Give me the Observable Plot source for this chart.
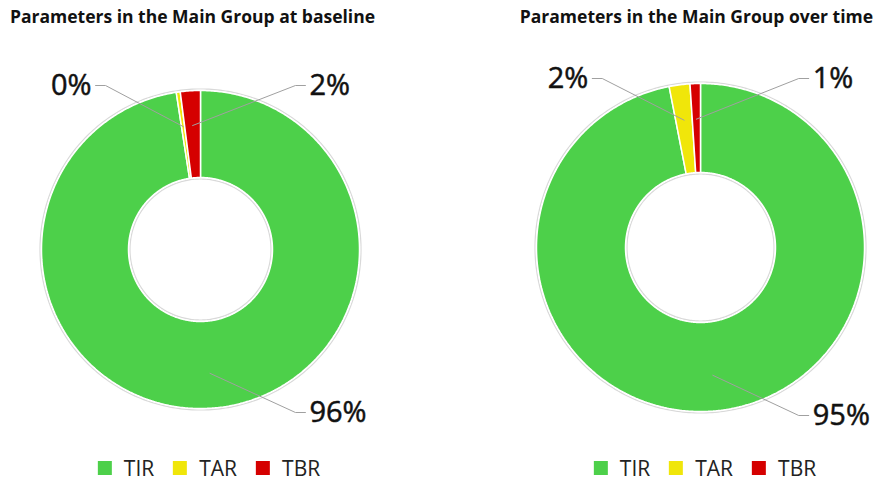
<!DOCTYPE html>
<html><head><meta charset="utf-8">
<script src="https://cdn.jsdelivr.net/npm/d3@7"></script>
<script src="https://cdn.jsdelivr.net/npm/@observablehq/plot@0.6"></script>
<style>
body{margin:0;background:#fff;font-family:"Open Sans",sans-serif;}
#root{position:relative;width:877px;height:482px;overflow:hidden;background:#fff}
.title{position:absolute;top:4px;font-weight:700;font-size:17.5px;color:#111;white-space:nowrap}
.panel{position:absolute;top:40px}
.legend{position:absolute;top:454px;display:flex;align-items:center;font-size:21px;color:#222;transform:translateX(-50%)}
.legend .item{display:flex;align-items:center;margin-right:19px}
.legend .item:last-child{margin-right:0}
.legend .sw{width:14px;height:14px;margin-right:12px}
</style></head><body><div id="root"></div>
<script>
const categories = ["TIR", "TAR", "TBR"];
const sliceColors = ["#4dd04a", "#f0e60a", "#d50000"];
const baselineValues = [96, 0.4, 2];
const overTimeValues = [95, 2, 1];
const chartTitles = ["Parameters in the Main Group at baseline", "Parameters in the Main Group over time"];

const H = 405;
const panels = [
  {values: baselineValues, title: chartTitles[0], left: 0, width: 438, cx: 200, cy: 209, rO: 159, rI: 72, legendX: 209, titleLeft: 10},
  {values: overTimeValues, title: chartTitles[1], left: 439, width: 438, cx: 261, cy: 207, rO: 164, rI: 75, legendX: 705, titleRight: 4}
];

const root = document.getElementById("root");

function donut(cfg) {
  const arcs = d3.pie().sort(null).value(d => d.value)(categories.map((c, i) => ({cat: c, value: cfg.values[i]})));
  const pt = (a, r) => [cfg.cx + r * Math.sin(a), cfg.cy - r * Math.cos(a)];
  const slicePts = [];
  arcs.forEach(p => {
    const n = Math.max(2, Math.ceil((p.endAngle - p.startAngle) / 0.01));
    const seg = [];
    for (let k = 0; k <= n; k++) { const a = p.startAngle + (p.endAngle - p.startAngle) * k / n; seg.push(pt(a, cfg.rO)); }
    for (let k = n; k >= 0; k--) { const a = p.startAngle + (p.endAngle - p.startAngle) * k / n; seg.push(pt(a, cfg.rI)); }
    seg.push(seg[0]);
    seg.forEach(([x, y]) => slicePts.push({cat: p.data.cat, x, y}));
  });
  const rim = [];
  for (let k = 0; k <= 360; k++) {
    const a = k / 360 * 2 * Math.PI;
    const [x1, y1] = pt(a, cfg.rO + 1.5); rim.push({ring: "o", x: x1, y: y1});
  }
  for (let k = 0; k <= 360; k++) {
    const a = k / 360 * 2 * Math.PI;
    const [x2, y2] = pt(a, cfg.rI - 1.5); rim.push({ring: "i", x: x2, y: y2});
  }
  const labels = [], leaders = [];
  arcs.forEach((p, i) => {
    const m = (p.startAngle + p.endAngle) / 2;
    const top = Math.cos(m) > 0;
    const side = (top && i === arcs.length - 1) ? 1 : (Math.sin(m) < 0 ? -1 : 1);
    const lx = cfg.cx + side * 0.66 * cfg.rO;
    const ly = top ? cfg.cy - cfg.rO - 5 : cfg.cy + cfg.rO + 4;
    const [rx, ry] = pt(m, cfg.rI + 0.6 * (cfg.rO - cfg.rI));
    [[lx, ly], [lx - side * 10, ly], [rx, ry]].forEach(([x, y]) => leaders.push({cat: p.data.cat, x, y}));
    labels.push({x: lx + side * 4, y: ly, side, text: Math.round(p.data.value) + "%"});
  });
  const textOpts = {x: "x", y: "y", text: "text", fontSize: 29, fill: "#111", stroke: "#111", strokeWidth: 0.5, fontFamily: "Open Sans"};
  return Plot.plot({
    width: cfg.width, height: H, margin: 0,
    x: {domain: [0, cfg.width], range: [0, cfg.width], axis: null},
    y: {domain: [0, H], range: [0, H], axis: null},
    color: {domain: categories, range: sliceColors},
    style: {background: "transparent", overflow: "visible"},
    marks: [
      Plot.line(rim, {x: "x", y: "y", z: "ring", stroke: "#d9d9d9", strokeWidth: 1.2}),
      Plot.line(slicePts, {x: "x", y: "y", z: "cat", fill: "cat", stroke: "white", strokeWidth: 1.5, strokeLinejoin: "miter"}),
      Plot.line(leaders, {x: "x", y: "y", z: "cat", stroke: "#a0a0a0", strokeWidth: 1}),
      Plot.text(labels.filter(d => d.side < 0), {...textOpts, textAnchor: "end"}),
      Plot.text(labels.filter(d => d.side > 0), {...textOpts, textAnchor: "start"})
    ]
  });
}

panels.forEach(cfg => {
  const t = document.createElement("div");
  t.className = "title";
  t.textContent = cfg.title;
  if (cfg.titleLeft != null) t.style.left = cfg.titleLeft + "px"; else t.style.right = cfg.titleRight + "px";
  root.appendChild(t);
  const p = document.createElement("div");
  p.className = "panel";
  p.style.left = cfg.left + "px";
  p.appendChild(donut(cfg));
  root.appendChild(p);
  const lg = document.createElement("div");
  lg.className = "legend";
  lg.style.left = cfg.legendX + "px";
  categories.forEach((c, i) => {
    const it = document.createElement("div"); it.className = "item";
    const sw = document.createElement("div"); sw.className = "sw"; sw.style.background = sliceColors[i];
    const tx = document.createElement("span"); tx.textContent = c;
    it.appendChild(sw); it.appendChild(tx); lg.appendChild(it);
  });
  root.appendChild(lg);
});
</script></body></html>
